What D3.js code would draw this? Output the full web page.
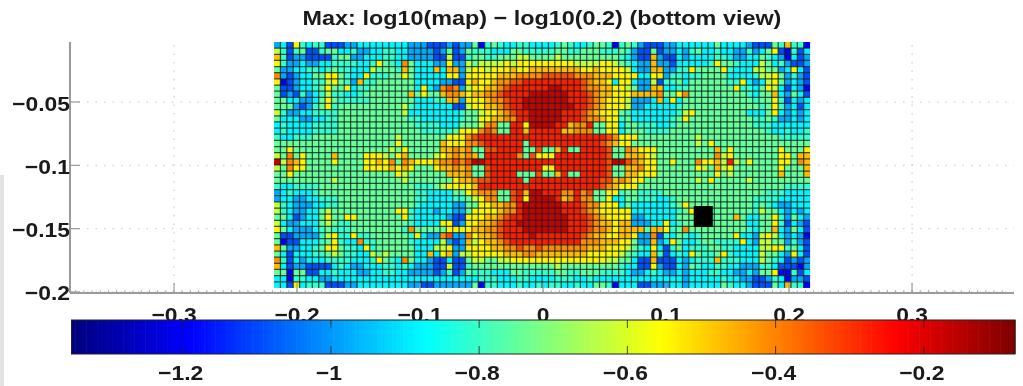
<!DOCTYPE html>
<html>
<head>
<meta charset="utf-8">
<script src="https://cdn.jsdelivr.net/npm/d3@7"></script>
<style>
html,body{margin:0;padding:0;background:#fff;overflow:hidden}
svg{display:block;filter:blur(0.6px)}
text{font-family:"Liberation Sans",Arial,sans-serif;font-weight:bold;fill:#1a1a1a}
</style>
</head>
<body>
<svg id="chart" width="1023" height="386"></svg>
<script>
const titleText = "Max: log10(map) \u2212 log10(0.2) (bottom view)";
const xTicks = [-0.3,-0.2,-0.1,0,0.1,0.2,0.3];
const xTickLabels = ["\u22120.3","\u22120.2","\u22120.1","0","0.1","0.2","0.3"];
const yTicks = [-0.05,-0.1,-0.15,-0.2];
const yTickLabels = ["\u22120.05","\u22120.1","\u22120.15","\u22120.2"];
const cbTicks = [-1.2,-1,-0.8,-0.6,-0.4,-0.2];
const cbTickLabels = ["\u22121.2","\u22121","\u22120.8","\u22120.6","\u22120.4","\u22120.2"];
const xDomain = [-0.3846,0.3829];
const yDomain = [-0.2008,-0.0026];
const gridX = [-0.2187,0.2171];
const gridY = [-0.1968,-0.0026];
const colorDomain = [-1.35,-0.077];
const blockedX = [0.1225,0.138];
const blockedY = [-0.1487,-0.1321];
// code of each cell -> log10 value
const levelCodes = "0123456789abc";
const levelValues = [-1.2,-1.095,-0.98,-0.885,-0.81,-0.745,-0.63,-0.54,-0.47,-0.41,-0.33,-0.27,-0.17];
const cellRows = [
"2317434411 1223333333 3222111212 250454334433 3345433455 4045421112 23 3333353333 2111548440",
"6414511455 3342233443 3222212512 544433355444 4455445554 4454211512 23 2453343322 4235710413",
"8412211114 5522333443 3222211611 455445556655 5565555555 5543211821 13 2333344322 3354320312",
"7422322334 4443347543 9533322722 656666767777 7777766667 7654322822 13 3333475543 3365342112",
"5223344345 4433365554 8533383882 677677787788 8888887787 7776322882 24 4755557433 3665523731",
"9212335577 5433744455 7533333772 777778889999 aaaaa99988 8777733772 44 3445555333 3466752421",
"7012334467 5428445555 5533332211 7877899aabbb bbbbbba988 7377322614 45 3555555447 3236752321",
"5112334575 5734455555 5537329a92 677889abbbbb bccbbba998 8776522883 34 4555555574 4357631320",
"5121423464 4334555555 5857558998 78899abbbbcc ccccbbba98 8777888895 57 9555555555 4355832531",
"5533223575 4444455555 5533344882 777899abbccc ccccbbba98 7776222383 73 5555555555 5455741323",
"5552124574 5555555555 6433333311 677889abbccc cccccbba98 7776223333 34 5555555555 5545742313",
"6422334444 5555555555 6333333334 5567789abbcc cccbbba987 7754333333 34 6755555555 3335732323",
"5333223344 5555555555 5443333334 55778899bbcc cccbbba998 7745333333 45 7555555555 5445422323",
"3433334444 5555555555 5544443335 5569955bb7cc ccbb899b55 7735544433 45 5555555555 5444333333",
"3433334444 5555555555 5554444457 779a955bb8bb bbb8899955 7735554444 55 5555555555 5554334334",
"4334445555 5555555556 5555555777 9abbbbbbbbbb bbbbbbbbbb a977755555 55 5565555555 5555544444",
"5555555555 5555555557 5555558777 99abbbbbb5bb bbbbbbbbba 9877555555 55 5565755555 5555555555",
"5575555555 5555555565 7555558898 955aabbbb55a 558b55bbbb a559877755 55 5555585755 5555575557",
"6595755558 5555777657 8555567898 985bbbbb95a7 77bbbbbbbb a558887655 55 5555596755 5555577588",
"c698755557 5555778795 98777899a9 accbbbbbbbbb bbbbbbbbbb acca987755 75 5597786b65 7555577598",
"6597755555 5555777787 8755578898 955abbbbbbbb 77bbbbbbbb a558897755 55 5576586755 5555575558",
"5575555555 5555555557 6555555888 955abbbb555a 558b55bbbb a558877755 55 5555575655 5555585558",
"5555555556 5555555555 6555555578 89aabbbbb5bb bbbbbbbbba a898775555 55 5565755555 6555555555",
"4334444555 5555555555 5544456777 78bbbbbbbbbb bbbbbbbbba 9877755555 55 5555555555 5555554444",
"2343334555 5555555555 5544333355 7899955ab8cc bbb99b9a55 7745544445 55 5555555555 5554443333",
"2332233444 5555555555 5544333344 5679955ab7cc ccb89b9955 7335544433 45 5555555555 5444433333",
"6432223344 5555555555 5543333322 55778899bccc cccbbba997 7735333333 45 7555555555 5454322333",
"6432233565 5555555557 7433323322 57777899bccc cccbbba987 7777333333 34 5755555555 5465532323",
"5531233575 5775555555 7433333211 777889abbccc ccccbbba98 7777223333 35 5555555585 3355742532",
"6322333565 4455555555 5433337712 77889abbcccc ccccbbba98 8788222337 34 5555555555 3355741321",
"7532223454 4455555555 4955555777 78899abbbccc ccccbbba99 8788885887 45 9555555555 4355832531",
"5112222467 4474455555 5473229a22 97889abbbbcb bbbbbba988 7788722914 35 4345555573 3267632320",
"5011333457 4339445555 5433336212 867889abbbbb bbbbbb9998 8877522823 75 3345544447 3266552421",
"8522334577 5443745555 5533366722 77778899a99a 9999999888 7776543731 45 3444554433 3366774531",
"5313334456 5443365655 5533837826 677777888998 8888888777 7765433841 34 3754457433 3365532731",
"9413233344 4433347543 9533211311 566556677777 7777777777 6655311811 13 2344484443 3365431212",
"8312211113 4322333443 4322211611 455555555555 5565555555 5543311721 13 2543344332 2244311102",
"5505511334 3332233443 3222212412 544433355444 4455445554 4443223432 23 2333443322 3255700413",
"3304433223 3333333333 3333333333 334443334433 3344433433 3333333333 33 2333334332 2112430221",
"3317344411 1223333333 3221122222 250443334334 3443343355 4033311222 33 2333335433 2111538440"
];

const svg = d3.select("#chart");
const x = d3.scaleLinear().domain(xDomain).range([70,1014]);
const y = d3.scaleLinear().domain(yDomain).range([293,42]);
const cx = d3.scaleLinear().domain(colorDomain).range([71.5,1015]);
const span = colorDomain[1]-colorDomain[0];
const jet = d3.scaleLinear()
  .domain([0,0.125,0.375,0.625,0.875,1].map(t=>colorDomain[0]+t*span))
  .range(["#00007f","#0000ff","#00ffff","#ffff00","#ff0000","#7f0000"])
  .interpolate(d3.interpolateRgb);

// side strip of the source page
svg.append("rect").attr("x",0).attr("y",175).attr("width",4).attr("height",211).attr("fill","#e2e2e2");

// dotted grid
const gridC = svg.append("g").attr("stroke","#c4c4c4").attr("stroke-width",1).attr("stroke-dasharray","1.5 7");
gridC.selectAll("line.v").data(xTicks).join("line").attr("class","v")
  .attr("x1",d=>x(d)).attr("x2",d=>x(d)).attr("y1",y(yDomain[0])).attr("y2",y(yDomain[1]));
gridC.selectAll("line.h").data(yTicks).join("line").attr("class","h")
  .attr("y1",d=>y(d)).attr("y2",d=>y(d)).attr("x1",x(xDomain[0])).attr("x2",x(xDomain[1]));

// cells
const parsed = cellRows.map(r=>r.replace(/ /g,"").split("").map(c=>levelValues[levelCodes.indexOf(c)]));
const nRows = parsed.length, nCols = 84;
const colX = d3.scaleBand().domain(d3.range(nCols)).range([x(gridX[0]),x(gridX[1])]);
const rowY = d3.scaleBand().domain(d3.range(nRows)).range([y(gridY[1]),y(gridY[0])]);
const cells = [];
parsed.forEach((row,r)=>row.forEach((v,c)=>cells.push({r,c,v})));
svg.append("g").selectAll("rect").data(cells).join("rect")
  .attr("x",d=>colX(d.c)).attr("y",d=>rowY(d.r))
  .attr("width",colX.bandwidth()).attr("height",rowY.bandwidth())
  .attr("fill",d=>jet(d.v));
const mesh = svg.append("g").attr("stroke","#0b1f1a").attr("stroke-opacity",0.78).attr("stroke-width",1.25);
mesh.selectAll("line.v").data(d3.range(1,nCols)).join("line").attr("class","v")
  .attr("x1",d=>colX(d)).attr("x2",d=>colX(d)).attr("y1",rowY.range()[0]).attr("y2",rowY.range()[1]);
mesh.selectAll("line.h").data(d3.range(1,nRows)).join("line").attr("class","h")
  .attr("y1",d=>rowY(d)).attr("y2",d=>rowY(d)).attr("x1",colX.range()[0]).attr("x2",colX.range()[1]);

// blocked element
svg.append("rect").attr("x",x(blockedX[0])).attr("width",x(blockedX[1])-x(blockedX[0]))
  .attr("y",y(blockedY[1])).attr("height",y(blockedY[0])-y(blockedY[1])).attr("fill","#000");

// axes
const axC = "#9a9a9a";
const axes = svg.append("g").attr("stroke",axC);
axes.append("line").attr("x1",70).attr("x2",70).attr("y1",y(yDomain[1])).attr("y2",y(yDomain[0])).attr("stroke-width",2);
axes.append("line").attr("x1",70).attr("x2",x(xDomain[1])).attr("y1",y(yDomain[0])).attr("y2",y(yDomain[0])).attr("stroke-width",2);
axes.selectAll("line.xt").data(xTicks).join("line").attr("class","xt")
  .attr("x1",d=>x(d)).attr("x2",d=>x(d)).attr("y1",y(yDomain[0])).attr("y2",y(yDomain[0])-10).attr("stroke-width",1.2);
axes.selectAll("line.yt").data(yTicks).join("line").attr("class","yt")
  .attr("y1",d=>y(d)).attr("y2",d=>y(d)).attr("x1",70).attr("x2",80).attr("stroke-width",1.2);
axes.selectAll("line.xm").data(d3.range(-0.38,0.38,0.1/15)).join("line").attr("class","xm")
  .attr("x1",d=>x(d)).attr("x2",d=>x(d)).attr("y1",y(yDomain[0])).attr("y2",y(yDomain[0])-3).attr("stroke-width",0.8);

// horizontally widened text, as in the source picture
const stretch = 1.09;
function label(parent,px,py,str,anchor,size,sx){
  return parent.append("text")
    .attr("transform",`translate(${px},${py}) scale(${sx||stretch},1)`)
    .attr("text-anchor",anchor).attr("font-size",size).text(str);
}
xTicks.forEach((t,i)=>label(svg,x(t),322,xTickLabels[i],"middle",21));
yTicks.forEach((t,i)=>label(svg,70,y(t)+8.5,yTickLabels[i],"end",21));
label(svg,542,25,titleText,"middle",21,1.114);

// colorbar
const cbSteps = d3.range(256);
const cbBand = d3.scaleBand().domain(cbSteps).range(cx.range());
const cbVal = d3.scaleLinear().domain([0,255]).range(colorDomain);
svg.append("g").selectAll("rect").data(cbSteps).join("rect")
  .attr("x",d=>cbBand(d)).attr("width",cbBand.bandwidth()+0.6).attr("y",320).attr("height",34)
  .attr("fill",d=>jet(cbVal(d)));
svg.append("rect").attr("x",71.5).attr("y",320).attr("width",cx.range()[1]-71.5).attr("height",34)
  .attr("fill","none").attr("stroke","#222").attr("stroke-width",1);
const cbt = svg.append("g").attr("stroke","#222").attr("stroke-opacity",0.8);
cbt.selectAll("line.t").data(cbTicks).join("line").attr("class","t")
  .attr("x1",d=>cx(d)).attr("x2",d=>cx(d)).attr("y1",320).attr("y2",328);
cbt.selectAll("line.b").data(cbTicks).join("line").attr("class","b")
  .attr("x1",d=>cx(d)).attr("x2",d=>cx(d)).attr("y1",346).attr("y2",354);
cbTicks.forEach((t,i)=>label(svg,cx(t)-2,380,cbTickLabels[i],"middle",21));
</script>
</body>
</html>
